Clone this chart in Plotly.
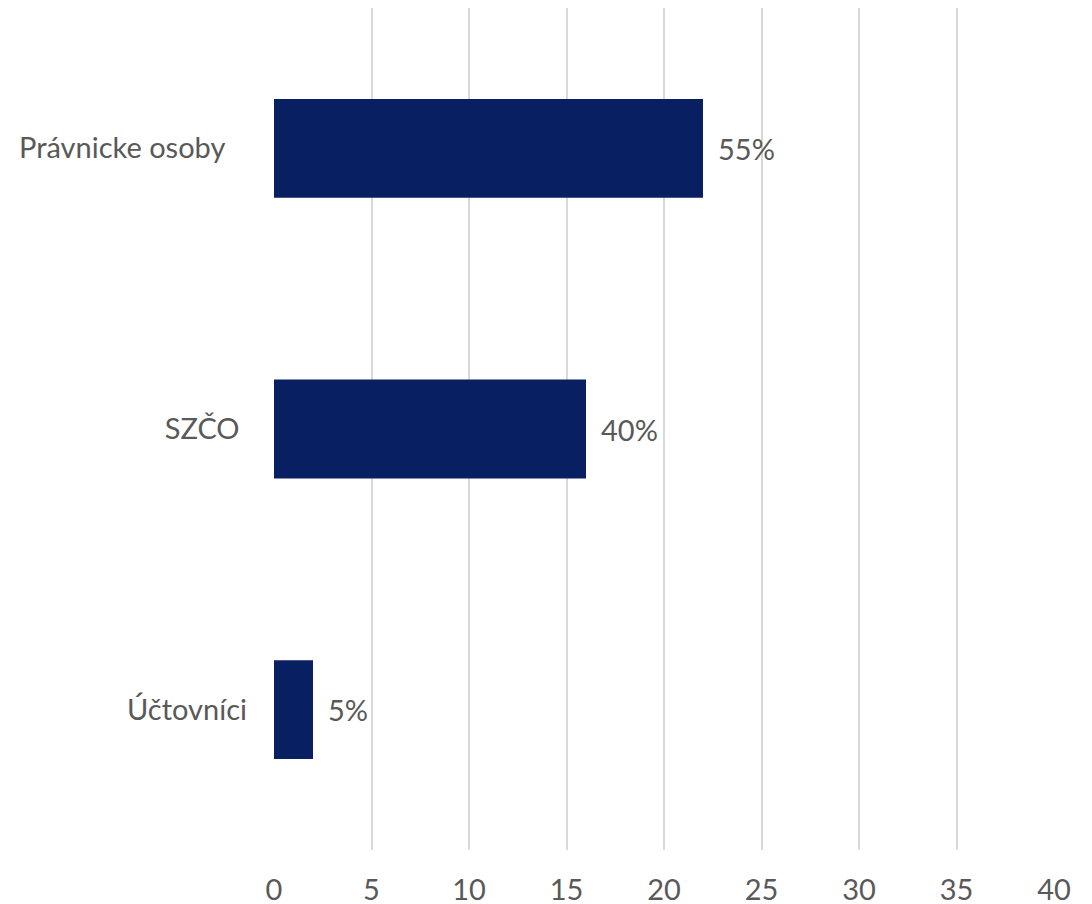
import plotly.graph_objects as go

categories = ["Účtovníci", "SZČO", "Právnicke osoby"]
values = [2, 16, 22]
value_labels = ["5%", "40%", "55%"]
x_ticks = [0, 5, 10, 15, 20, 25, 30, 35, 40]

BAR = "#081F62"
TXT = "#595959"
GRID = "#D9D9D9"
FONT = "Lato, Calibri, Arial, sans-serif"
FS = 29

# pad tick labels to reproduce uneven right edges of the original category labels
pad = {"Účtovníci": "", "SZČO": "\u00a0", "Právnicke osoby": "\u00a0\u00a0\u00a0"}
ticktext = [c + pad[c] for c in categories]

fig = go.Figure()
fig.add_trace(go.Bar(
    y=categories, x=values, orientation="h",
    marker=dict(color=BAR, line=dict(width=0)),
    width=0.352, hoverinfo="skip",
))

for c, v, t in zip(categories, values, value_labels):
    fig.add_annotation(x=v, y=c, text=t, xanchor="left", yanchor="middle",
                       xshift=13, showarrow=False,
                       font=dict(family=FONT, size=FS, color=TXT))

fig.update_layout(
    width=1084, height=896,
    margin=dict(l=266, r=38, t=0, b=54),
    paper_bgcolor="white", plot_bgcolor="white",
    showlegend=False,
    font=dict(family=FONT, size=FS, color=TXT),
)
fig.update_xaxes(
    range=[0, 40], tickvals=x_ticks, ticktext=[str(t) for t in x_ticks],
    showgrid=True, gridcolor=GRID, gridwidth=2,
    zeroline=False, showline=False, ticks="",
    ticklabelstandoff=20, automargin=False,
    tickfont=dict(family=FONT, size=FS, color=TXT),
)
fig.update_yaxes(
    categoryorder="array", categoryarray=categories,
    tickvals=categories, ticktext=ticktext,
    showgrid=False, zeroline=False, showline=False, ticks="",
    ticklabelstandoff=26, automargin=False,
    tickfont=dict(family=FONT, size=FS, color=TXT),
)

fig.write_html("out.html")
